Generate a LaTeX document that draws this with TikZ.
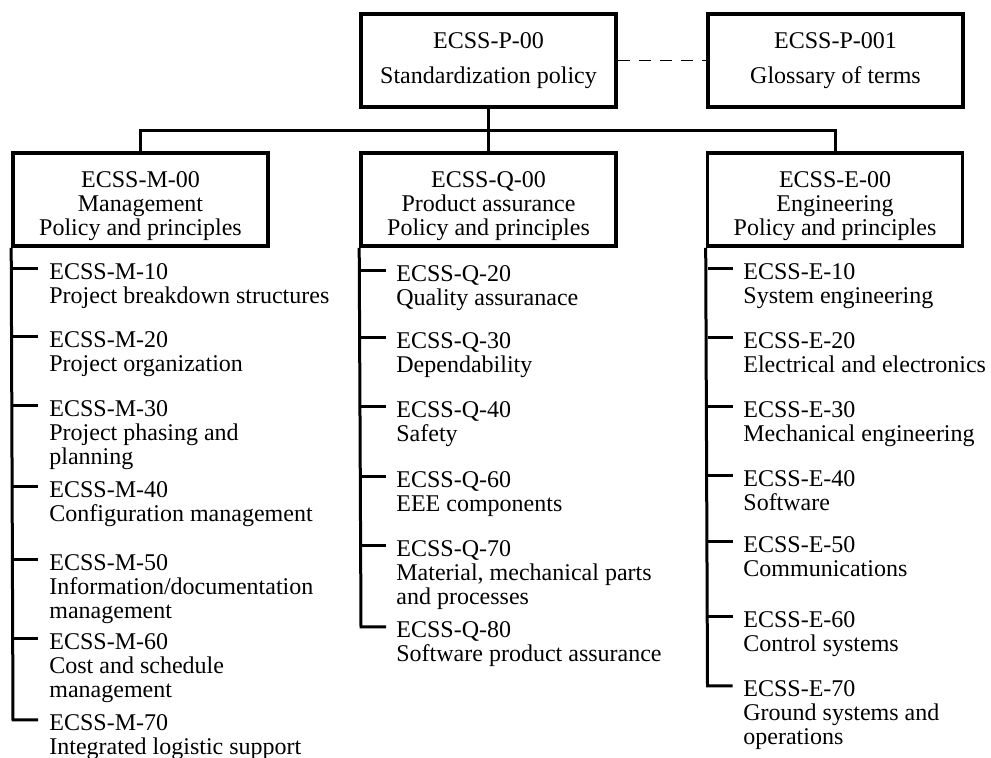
\documentclass[tikz,border=0pt]{standalone}
\usepackage{fontspec}
\setmainfont{Liberation Serif}
\newcommand{\itemstrut}{\rule{0pt}{8.4pt}}
\tikzset{
  stdbox/.style={draw, line width=1.8pt, minimum width=127.5pt, minimum height=46.5pt,
    inner sep=0pt, align=center, font=\fontsize{12}{12}\selectfont},
  link/.style={line width=1.5pt},
  seelink/.style={line width=0.8pt, dash pattern=on 6pt off 4.5pt},
  item/.style={anchor=north west, align=left, inner sep=0pt,
    font=\fontsize{12}{12}\selectfont}
}
\begin{document}
\begin{tikzpicture}[x=0.5pt,y=-0.5pt]
 \useasboundingbox (0,0) rectangle (991,758);

 %policy and glossary
 \node[stdbox] (P00) at (488.5,60.5) {ECSS-P-00\\[5.5pt]Standardization policy};
 \node[stdbox] (P001) at (835.5,60.5) {ECSS-P-001\\[5.5pt]Glossary of terms};
 \draw[seelink] (P00.east) -- (P001.west);

 %the three branches
 \node[stdbox] (M00) at (140.5,199.5) {\rule{0pt}{15pt}ECSS-M-00\\Management\\Policy and principles};
 \node[stdbox] (Q00) at (488.5,199.5) {\rule{0pt}{15pt}ECSS-Q-00\\Product assurance\\Policy and principles};
 \node[stdbox] (E00) at (835,199.5) {\rule{0pt}{15pt}ECSS-E-00\\Engineering\\Policy and principles};

 %tree lines
 \draw[link] (P00.south) -- ++(0,22) coordinate (J);
 \draw[link] (M00.north) |- (J) -| (E00.north);
 \draw[link] (J) -- (Q00.north);

 %points on the spines
 \coordinate (M10) at (13,269);
 \coordinate (M20) at (13,337);
 \coordinate (M30) at (13,406);
 \coordinate (M40) at (13,487);
 \coordinate (M50) at (13,560);
 \coordinate (M60) at (13,639);
 \coordinate (M70) at (13,720);

 \coordinate (Q20) at (361,271);
 \coordinate (Q30) at (361,338);
 \coordinate (Q40) at (361,407);
 \coordinate (Q60) at (361,477);
 \coordinate (Q70) at (361,546);
 \coordinate (Q80) at (361,627);

 \coordinate (E10) at (707.5,269);
 \coordinate (E20) at (707.5,338);
 \coordinate (E30) at (707.5,407);
 \coordinate (E40) at (707.5,476);
 \coordinate (E50) at (707.5,542);
 \coordinate (E60) at (707.5,617);
 \coordinate (E70) at (707.5,686);

 %management standards
 \node[item] (m10) at ([shift={(36,-6.5)}]M10) {\itemstrut ECSS-M-10\\Project breakdown structures};
 \node[item] (m20) at ([shift={(36,-6.5)}]M20) {\itemstrut ECSS-M-20\\Project organization};
 \node[item] (m30) at ([shift={(36,-6.5)}]M30) {\itemstrut ECSS-M-30\\Project phasing and\\planning};
 \node[item] (m40) at ([shift={(36,-6.5)}]M40) {\itemstrut ECSS-M-40\\Configuration management};
 \node[item] (m50) at ([shift={(36,-6.5)}]M50) {\itemstrut ECSS-M-50\\Information/documentation\\management};
 \node[item] (m60) at ([shift={(36,-6.5)}]M60) {\itemstrut ECSS-M-60\\Cost and schedule\\management};
 \node[item] (m70) at ([shift={(36,-6.5)}]M70) {\itemstrut ECSS-M-70\\Integrated logistic support};

 %product assurance standards
 \node[item] (q20) at ([shift={(35,-6.5)}]Q20) {\itemstrut ECSS-Q-20\\Quality assuranace};
 \node[item] (q30) at ([shift={(35,-6.5)}]Q30) {\itemstrut ECSS-Q-30\\Dependability};
 \node[item] (q40) at ([shift={(35,-6.5)}]Q40) {\itemstrut ECSS-Q-40\\Safety};
 \node[item] (q60) at ([shift={(35,-6.5)}]Q60) {\itemstrut ECSS-Q-60\\EEE components};
 \node[item] (q70) at ([shift={(35,-6.5)}]Q70) {\itemstrut ECSS-Q-70\\Material, mechanical parts\\and processes};
 \node[item] (q80) at ([shift={(35,-6.5)}]Q80) {\itemstrut ECSS-Q-80\\Software product assurance};

 %engineering standards
 \node[item] (e10) at ([shift={(35.5,-6.5)}]E10) {\itemstrut ECSS-E-10\\System engineering};
 \node[item] (e20) at ([shift={(35.5,-6.5)}]E20) {\itemstrut ECSS-E-20\\Electrical and electronics};
 \node[item] (e30) at ([shift={(35.5,-6.5)}]E30) {\itemstrut ECSS-E-30\\Mechanical engineering};
 \node[item] (e40) at ([shift={(35.5,-6.5)}]E40) {\itemstrut ECSS-E-40\\Software};
 \node[item] (e50) at ([shift={(35.5,-6.5)}]E50) {\itemstrut ECSS-E-50\\Communications};
 \node[item] (e60) at ([shift={(35.5,-6.5)}]E60) {\itemstrut ECSS-E-60\\Control systems};
 \node[item] (e70) at ([shift={(35.5,-6.5)}]E70) {\itemstrut ECSS-E-70\\Ground systems and\\operations};

 %spines and ticks
 \draw[link] (M00.south west) -- (M70) -- ++(25,0);
 \draw[link] (M10) -- ++(25,0);
 \draw[link] (M20) -- ++(25,0);
 \draw[link] (M30) -- ++(25,0);
 \draw[link] (M40) -- ++(25,0);
 \draw[link] (M50) -- ++(25,0);
 \draw[link] (M60) -- ++(25,0);

 \draw[link] (Q00.south west) -- (Q80) -- ++(25,0);
 \draw[link] (Q20) -- ++(25,0);
 \draw[link] (Q30) -- ++(25,0);
 \draw[link] (Q40) -- ++(25,0);
 \draw[link] (Q60) -- ++(25,0);
 \draw[link] (Q70) -- ++(25,0);

 \draw[link] (E00.south west) -- (E70) -- ++(25,0);
 \draw[link] (E10) -- ++(25,0);
 \draw[link] (E20) -- ++(25,0);
 \draw[link] (E30) -- ++(25,0);
 \draw[link] (E40) -- ++(25,0);
 \draw[link] (E50) -- ++(25,0);
 \draw[link] (E60) -- ++(25,0);
\end{tikzpicture}
\end{document}
